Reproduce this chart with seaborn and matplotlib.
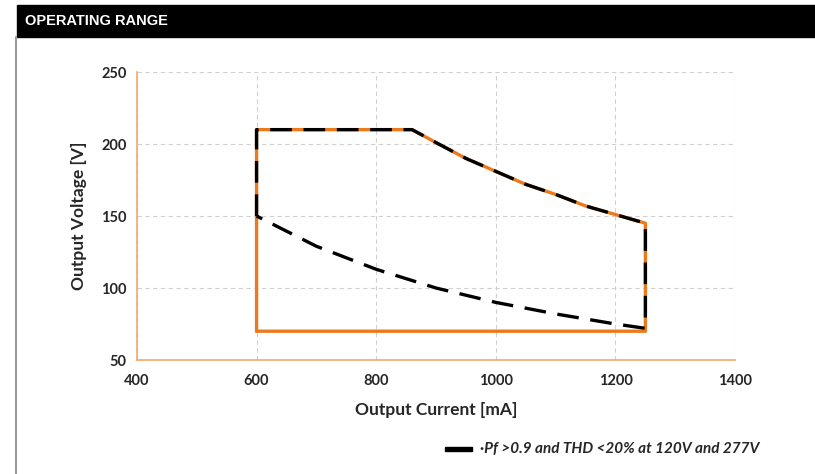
import numpy as np
import pandas as pd
import matplotlib
matplotlib.use("Agg")
import matplotlib.pyplot as plt
import seaborn as sns
from matplotlib.lines import Line2D
from matplotlib.patches import Rectangle

# Operating window (orange outline), current [mA] vs voltage [V]
outline_current = [600, 600, 860, 900, 950, 1000, 1050, 1100, 1150, 1200, 1250, 1250, 600]
outline_voltage = [70, 210, 210, 201, 190, 181, 172, 165, 157, 151, 145, 70, 70]

# Pf > 0.9 / THD < 20% region (black dashed)
pf_current = [600, 600, 860, 900, 950, 1000, 1050, 1100, 1150, 1200, 1250, 1250,
              1200, 1100, 1000, 900, 800, 700, 600]
pf_voltage = [150, 210, 210, 201, 190, 181, 172, 165, 157, 151, 145, 72,
              75, 82, 90, 100, 113, 129, 150]

x_ticks = [400, 600, 800, 1000, 1200, 1400]
y_ticks = [50, 100, 150, 200, 250]

orange = "#EC7A1C"
spine_col = "#F5A86A"

sns.set_style("white")
plt.rcParams["font.family"] = ["Lato", "DejaVu Sans"]

fig = plt.figure(figsize=(8.15, 4.74), dpi=100)
ax = fig.add_axes([0.168, 0.2405, 0.734, 0.6075])

outline = pd.DataFrame({"current": outline_current, "voltage": outline_voltage})
pf = pd.DataFrame({"current": pf_current, "voltage": pf_voltage})

sns.lineplot(data=outline, x="current", y="voltage", sort=False, estimator=None,
             color=orange, linewidth=2.4, ax=ax, zorder=3)
sns.lineplot(data=pf, x="current", y="voltage", sort=False, estimator=None,
             color="black", linewidth=2.4, ax=ax, zorder=4)
ax.lines[-1].set_dashes((6.5, 3.5))

ax.set_xlim(400, 1400)
ax.set_ylim(50, 250)
ax.set_xticks(x_ticks)
ax.set_yticks(y_ticks)
ax.grid(True, color="#d0d0d0", linestyle=(0, (4, 3)), linewidth=0.8)
ax.set_axisbelow(True)

for s in ["top", "right"]:
    ax.spines[s].set_visible(False)
for s in ["left", "bottom"]:
    ax.spines[s].set_color(spine_col)
    ax.spines[s].set_linewidth(1.2)
ax.tick_params(axis="both", length=4, color=spine_col, labelsize=10.5)
ax.tick_params(axis="x", pad=6)
for lab in ax.get_xticklabels() + ax.get_yticklabels():
    lab.set_fontweight("bold")

ax.set_xlabel("Output Current [mA]", fontsize=12.5, fontweight="bold", labelpad=10)
ax.set_ylabel("Output Voltage [V]", fontsize=12.5, fontweight="bold", labelpad=10)

# header bar
fig.patches.append(Rectangle((17 / 815, 1 - 37 / 474), 1 - 17 / 815, 32 / 474,
                             transform=fig.transFigure, color="black", zorder=0))
fig.text(25 / 815, 1 - 21 / 474, "OPERATING RANGE", color="white", fontsize=10.5,
         fontweight="bold", family=["Liberation Sans", "DejaVu Sans"], va="center")
fig.add_artist(Line2D([16 / 815, 16 / 815], [0, 1 - 37 / 474], transform=fig.transFigure,
                      color="#9a9a9a", linewidth=1.5))

# legend: solid black key + label
fig.patches.append(Rectangle((445 / 815, 1 - 451 / 474), 27 / 815, 4 / 474,
                             transform=fig.transFigure, color="black", zorder=5))
fig.text(480 / 815, 1 - 449 / 474, "·Pf >0.9 and THD <20% at 120V and 277V",
         fontsize=11, fontweight="bold", fontstyle="italic", va="center")

fig.savefig("out.png", dpi=100)
